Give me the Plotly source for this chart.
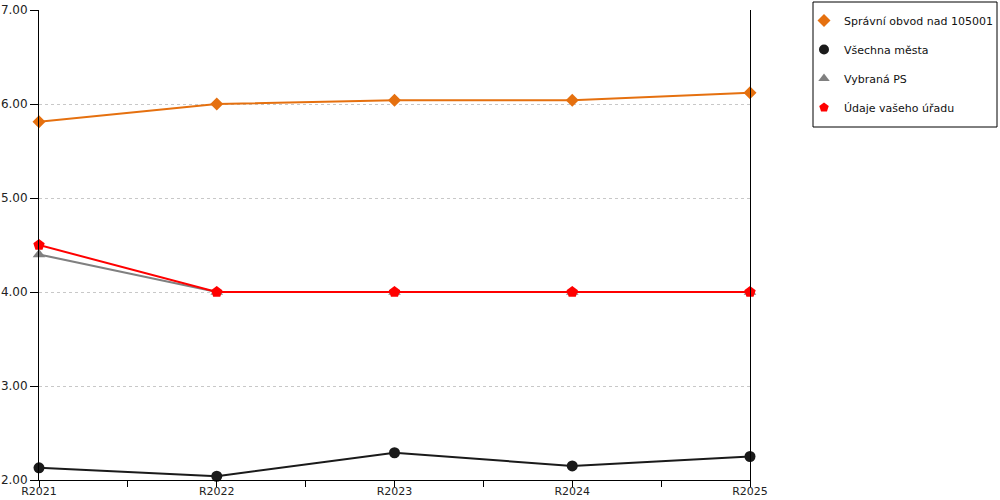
import plotly.graph_objects as go

categories = ["R2021", "R2022", "R2023", "R2024", "R2025"]
spravni = [5.81, 6.00, 6.04, 6.04, 6.12]
vsechna = [2.13, 2.04, 2.29, 2.15, 2.25]
vybrana = [4.40, 4.00, 4.00, 4.00, 4.00]
udaje = [4.50, 4.00, 4.00, 4.00, 4.00]
y_ticks = [2, 3, 4, 5, 6, 7]

series = [
    ("Správní obvod nad 105001", spravni, "#E5700F", "diamond", 10),
    ("Všechna města", vsechna, "#1a1a1a", "circle", 11),
    ("Vybraná PS", vybrana, "#808080", "triangle-up", 11),
    ("Údaje vašeho úřadu", udaje, "#FF0000", "pentagon", 12),
]

L, R, T, B = 39, 250, 10, 20
PW, PH = 1000 - L - R, 500 - T - B

xs = list(range(len(categories)))
fig = go.Figure()
for i, (name, vals, color, sym, size) in enumerate(series):
    fig.add_trace(go.Scatter(
        x=xs, y=vals, mode="lines+markers", name=name, showlegend=False,
        line=dict(color=color, width=2),
        marker=dict(symbol=sym, size=size, color=color),
        cliponaxis=False,
    ))
for i, (name, vals, color, sym, size) in enumerate(series):
    fig.add_trace(go.Scatter(
        x=[None], y=[None], mode="markers", name=name, legendgroup=f"g{i}",
        marker=dict(symbol=sym, size=10, color=color),
    ))

# legend box
fig.add_shape(type="rect", xref="paper", yref="paper",
              x0=(813 - L) / PW, x1=(997 - L) / PW,
              y0=(500 - B - 127) / PH, y1=(500 - B - 2) / PH,
              line=dict(color="black", width=1), fillcolor="rgba(0,0,0,0)")

fig.update_layout(
    width=1000, height=500,
    margin=dict(l=L, r=R, t=T, b=B, autoexpand=False),
    paper_bgcolor="white", plot_bgcolor="white",
    font=dict(family="DejaVu Sans", size=12, color="#222"),
    legend=dict(
        x=(804 - L) / PW, xanchor="left", y=(500 - B - 6) / PH, yanchor="top",
        borderwidth=0, bgcolor="rgba(0,0,0,0)",
        font=dict(family="DejaVu Sans", size=11, color="#111"),
        traceorder="grouped", tracegroupgap=10, itemwidth=30,
    ),
    xaxis=dict(
        range=[0, len(categories) - 1], tickvals=xs, ticktext=categories,
        showgrid=False, zeroline=False,
        showline=True, linecolor="black", linewidth=1,
        ticks="outside", ticklen=5, tickcolor="black",
        minor=dict(dtick=0.5, tick0=0, ticks="outside", ticklen=6, tickcolor="black", showgrid=False),
        tickfont=dict(size=11), automargin=False, ticklabelstandoff=-4,
    ),
    yaxis=dict(
        range=[2, 7], tickvals=y_ticks, tickformat=".2f",
        showgrid=True, gridcolor="#c8c8c8", griddash="dot", gridwidth=1,
        zeroline=False,
        showline=True, linecolor="black", linewidth=1, mirror=True,
        ticks="outside", ticklen=8, tickcolor="black",
        tickfont=dict(size=12), automargin=False,
    ),
)

fig.write_html("out.html", config={"displayModeBar": False},
               post_script="document.body.style.margin='0';document.body.style.overflow='hidden';")
